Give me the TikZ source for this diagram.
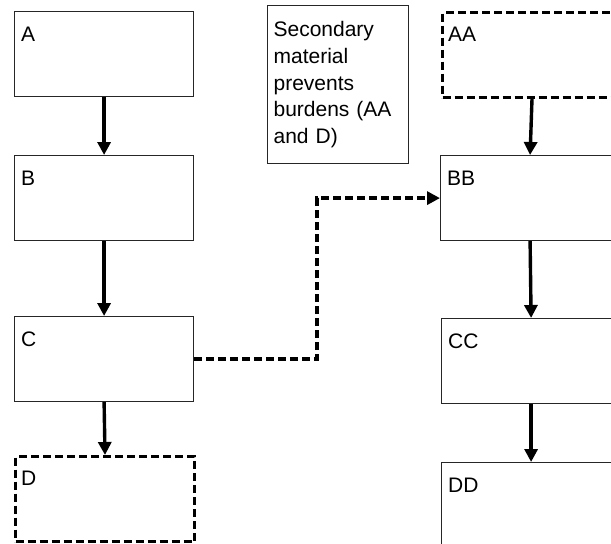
\documentclass[tikz,border=0pt]{standalone}
\usepackage{fontspec}
\setmainfont{Liberation Sans}
\usetikzlibrary{arrows.meta,calc}

\tikzset{
  box/.style={draw=black!85, line width=1.2pt, rectangle, inner sep=0pt,
              minimum width=179pt, minimum height=85pt, anchor=north west},
  dbox/.style={box, draw=black, line width=3pt, dash pattern=on 8pt off 4pt},
  tag/.style={anchor=base west, inner sep=0pt, xshift=7pt, yshift=-30pt,
              font=\fontsize{21}{25}\selectfont},
  flow/.style={line width=3.4pt, -{Triangle[length=13pt,width=13pt]}},
  dflow/.style={flow, dash pattern=on 8pt off 4pt}
}

\begin{document}
\begin{tikzpicture}[x=1pt, y=-1pt]
  \useasboundingbox (0,0) rectangle (611,544);
  \clip (0,0) rectangle (611,544);

  % left column
  \node[box]  (A) at (14,11)  {};
  \node[box]  (B) at (14,155) {};
  \node[box]  (C) at (14,316) {};
  \node[dbox] (D) at (14,455) {};

  % right column
  \node[dbox] (AA) at (441,11)  {};
  \node[box]  (BB) at (440,155) {};
  \node[box]  (CC) at (441,318) {};
  \node[box]  (DD) at (441,462) {};

  % box titles
  \node[tag] (tA)  at (A.north west)  {A};
  \node[tag] (tB)  at (B.north west)  {B};
  \node[tag] (tC)  at (C.north west)  {C};
  \node[tag] (tD)  at (D.north west)  {D};
  \node[tag] (tAA) at (AA.north west) {AA};
  \node[tag] (tBB) at (BB.north west) {BB};
  \node[tag] (tCC) at (CC.north west) {CC};
  \node[tag] (tDD) at (DD.north west) {DD};

  % note box
  \node[draw=black!85, line width=1.2pt, anchor=north west, inner xsep=6pt,
        inner ysep=0pt, text width=129pt, minimum width=141pt,
        minimum height=158pt, align=left,
        font=\fontsize{21}{26.7}\selectfont] (note) at (267,5)
    {Secondary\\material\\prevents\\burdens (AA\\and D)};

  % connectors
  \draw[flow] (A.south) -- (B.north);
  \draw[flow] (B.south) -- (C.north);
  \draw[flow] (C.south) -- (D.north);
  \draw[flow] (AA.south) -- (BB.north);
  \draw[flow] (BB.south) -- (CC.north);
  \draw[flow] (CC.south) -- (DD.north);

  \coordinate (mid) at ($(C.east)!0.5!(BB.west)$);
  \draw[dflow] (C.east) -| (mid) |- (BB.west);
\end{tikzpicture}
\end{document}
